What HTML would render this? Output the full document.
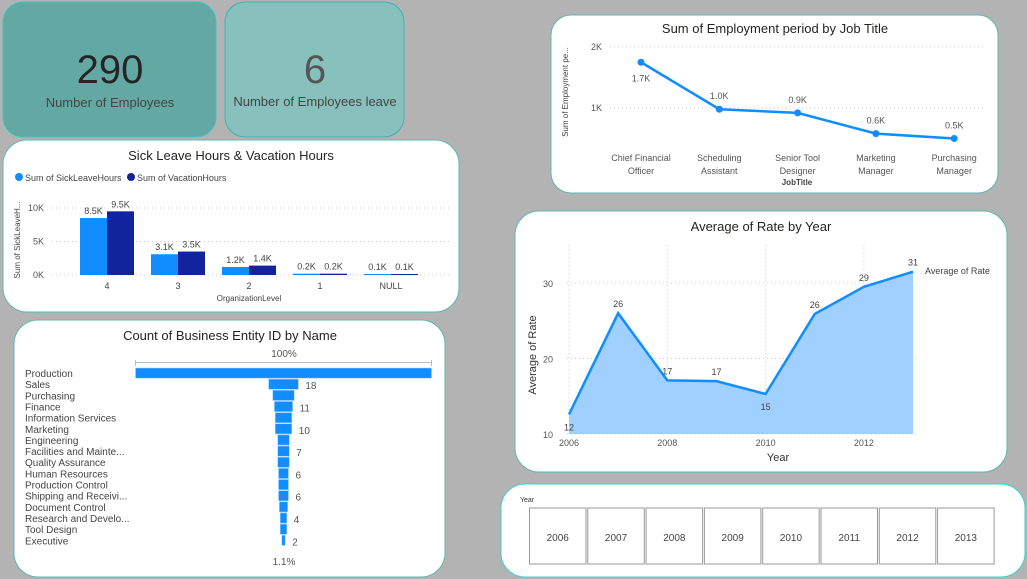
<!DOCTYPE html>
<html><head><meta charset="utf-8"><style>
html,body{margin:0;padding:0;width:1027px;height:579px;overflow:hidden;background:#b3b3b3}
svg{display:block;font-family:"Liberation Sans","DejaVu Sans",sans-serif}
</style></head><body>
<svg id="s" width="1027" height="579" viewBox="0 0 1027 579">
<rect width="1027" height="579" fill="#b3b3b3"/>
<g>
<rect x="3" y="2" width="213" height="135" rx="20" fill="#64a8a4" stroke="#3cc4c0" stroke-width="1"/>
<text x="110" y="83" text-anchor="middle" font-size="40" fill="#252525">290</text>
<text x="110" y="107" text-anchor="middle" font-size="13" fill="#444">Number of Employees</text>
</g>
<g>
<rect x="225" y="2" width="179" height="135" rx="20" fill="#87c0bd" stroke="#3cb4b0" stroke-width="1"/>
<text x="315" y="83" text-anchor="middle" font-size="40" fill="#555">6</text>
<text x="315" y="106" text-anchor="middle" font-size="13" fill="#444">Number of Employees leave</text>
</g>
<rect x="3" y="140" width="456" height="172" rx="24" fill="#fff" stroke="#5cb8b0"/>
<rect x="14" y="320" width="431" height="257" rx="24" fill="#fff" stroke="#5cb8b0"/>
<rect x="551" y="15" width="447" height="178" rx="20" fill="#fff" stroke="#5cb8b0"/>
<rect x="515" y="211" width="492" height="261" rx="24" fill="#fff" stroke="#5cb8b0"/>
<rect x="501" y="484" width="524" height="93" rx="24" fill="#fff" stroke="#3cd0d0"/>

<text x="231" y="160" text-anchor="middle" font-size="13" fill="#252423">Sick Leave Hours &amp; Vacation Hours</text>
<g>
<circle cx="19" cy="177" r="4" fill="#118dff"/>
<text x="25" y="181" font-size="9" fill="#444">Sum of SickLeaveHours</text>
<circle cx="131" cy="177" r="4" fill="#12239e"/>
<text x="137" y="181" font-size="9" fill="#444">Sum of VacationHours</text>
</g>
<g id="bars"></g>
<text x="20" y="240" transform="rotate(-90 20 240)" text-anchor="middle" font-size="8" fill="#444">Sum of SickLeaveH...</text>
<text x="249" y="301" text-anchor="middle" font-size="8" fill="#444">OrganizationLevel</text>

<text x="230" y="340" text-anchor="middle" font-size="13" fill="#252423">Count of Business Entity ID by Name</text>
<text x="284" y="357" text-anchor="middle" font-size="10" fill="#555">100%</text>
<path d="M135.5 360 V366 M135.5 362.5 H431.5 M431.5 360 V366" stroke="#bbb" fill="none"/>
<g id="funnel"></g>
<text x="284" y="565" text-anchor="middle" font-size="10" fill="#555">1.1%</text>

<text x="775" y="33" text-anchor="middle" font-size="13" fill="#252423">Sum of Employment period by Job Title</text>
<g id="emp"></g>
<text x="568" y="92" transform="rotate(-90 568 92)" text-anchor="middle" font-size="8" fill="#444">Sum of Employment pe...</text>
<text x="797" y="185" text-anchor="middle" font-size="8" fill="#444" font-weight="bold">JobTitle</text>

<text x="761" y="231" text-anchor="middle" font-size="13" fill="#252423">Average of Rate by Year</text>
<g id="rate"></g>
<text x="536" y="355" transform="rotate(-90 536 355)" text-anchor="middle" font-size="11" fill="#333">Average of Rate</text>
<text x="778" y="461" text-anchor="middle" font-size="11" fill="#333">Year</text>
<text x="925" y="274" font-size="9" fill="#444">Average of Rate</text>

<text x="520" y="502" font-size="7" fill="#333">Year</text>
<g id="slicer"></g>
</svg>
<script>
const NS="http://www.w3.org/2000/svg";
function mk(p,t,a,txt){const e=document.createElementNS(NS,t);for(const k in a)e.setAttribute(k,a[k]);if(txt!=null)e.textContent=txt;p.appendChild(e);return e;}

const orgLevels=["4","3","2","1","NULL"];
const sickVals=[8.5,3.1,1.2,0.2,0.1];
const vacVals=[9.5,3.5,1.4,0.2,0.1];
const sickTicks=[0,5,10];
const bars=document.getElementById('bars');
const bY=v=>275-v*6.7, bX=i=>107+i*71;
sickTicks.forEach(t=>{
 const l=mk(bars,'line',{x1:52,x2:450,y1:bY(t),y2:bY(t),stroke:'#ccc','stroke-dasharray':'1 3'});
 
 
 const tx=mk(bars,'text',{x:44,y:bY(t)+3,'text-anchor':'end','font-size':9,fill:'#555'},t+'K');
 
 
});
orgLevels.forEach((c,i)=>{
 [[sickVals[i],'#118dff',-27],[vacVals[i],'#12239e',0]].forEach(([v,col,off])=>{
  const h=Math.max(v*6.7,1);
  const r=mk(bars,'rect',{x:bX(i)+off,y:275-h,width:27,height:h,fill:col});
  
  
  const t=mk(bars,'text',{x:bX(i)+off+13.5,y:275-h-4,'text-anchor':'middle','font-size':9,fill:'#444'},v.toFixed(1)+'K');
  
  
 });
 const t=mk(bars,'text',{x:bX(i),y:289,'text-anchor':'middle','font-size':9,fill:'#444'},c);
 
 
});

const deptNames=["Production","Sales","Purchasing","Finance","Information Services","Marketing","Engineering","Facilities and Mainte...","Quality Assurance","Human Resources","Production Control","Shipping and Receivi...","Document Control","Research and Develo...","Tool Design","Executive"];
const deptCounts=[179,18,13,11,10,10,7,7,7,6,6,6,5,4,4,2];
const deptShownLabels=[null,"18",null,"11",null,"10",null,"7",null,"6",null,"6",null,"4",null,"2"];
const fun=document.getElementById('funnel');
const fMax=Math.max(...deptCounts);
deptNames.forEach((n,i)=>{
 const y=368+i*11.15, w=deptCounts[i]/fMax*296;
 const r=mk(fun,'rect',{x:283.5-w/2,y:y,width:w,height:10.2,fill:'#118dff',stroke:'#9cd0ff','stroke-width':0.6});
 
 
 const t=mk(fun,'text',{x:25,y:y+9,'font-size':10,fill:'#444'},n);
 
 
 if(deptShownLabels[i]){
  const v=mk(fun,'text',{x:283.5+w/2+7,y:y+10,'font-size':10,fill:'#555'},deptShownLabels[i]);
  
  
 }
});

const jobTitles=[["Chief Financial","Officer"],["Scheduling","Assistant"],["Senior Tool","Designer"],["Marketing","Manager"],["Purchasing","Manager"]];
const empVals=[1.75,0.98,0.92,0.58,0.5];
const empLabels=["1.7K","1.0K","0.9K","0.6K","0.5K"];
const empTicks=[1,2];
const emp=document.getElementById('emp');
const eY=v=>169-v*61, eX=i=>641+i*78.3;
empTicks.forEach(t=>{
 const l=mk(emp,'line',{x1:610,x2:985,y1:eY(t),y2:eY(t),stroke:'#ccc','stroke-dasharray':'1 3'});
 
 
 const tx=mk(emp,'text',{x:602,y:eY(t)+3,'text-anchor':'end','font-size':9,fill:'#555'},t+'K');
 
 
});
const ep=mk(emp,'polyline',{points:empVals.map((v,i)=>eX(i)+','+eY(v)).join(' '),fill:'none',stroke:'#118dff','stroke-width':2.5});


empVals.forEach((v,i)=>{
 const c=mk(emp,'circle',{cx:eX(i),cy:eY(v),r:3.5,fill:'#118dff'});
 
 
 const ly=i==0?eY(v)+19:eY(v)-10;
 const t=mk(emp,'text',{x:eX(i),y:ly,'text-anchor':'middle','font-size':9,fill:'#555'},empLabels[i]);
 
 
 jobTitles[i].forEach((s,k)=>{
  const tt=mk(emp,'text',{x:eX(i),y:161+k*13,'text-anchor':'middle','font-size':9,fill:'#555'},s);
  
  
 });
});

const years=[2006,2007,2008,2009,2010,2011,2012,2013];
const rateVals=[12.6,26,17.1,17,15.3,25.9,29.5,31.5];
const rateLabels=["12","26","17","17","15","26","29","31"];
const rateTicks=[10,20,30];
const yearTicks=[2006,2008,2010,2012];
const rate=document.getElementById('rate');
const rY=v=>434-(v-10)*7.55, rX=y=>569+(y-2006)*49.15;
rateTicks.forEach(t=>{
 const l=mk(rate,'line',{x1:567,x2:918,y1:rY(t),y2:rY(t),stroke:'#ccc','stroke-dasharray':'1 3'});
 
 
 const tx=mk(rate,'text',{x:553,y:rY(t)+4,'text-anchor':'end','font-size':9,fill:'#555'},t);
 
 
});
yearTicks.forEach(y=>{
 const l=mk(rate,'line',{x1:rX(y),x2:rX(y),y1:245,y2:434,stroke:'#ccc','stroke-dasharray':'1 3'});
 
 
 const tx=mk(rate,'text',{x:rX(y),y:446,'text-anchor':'middle','font-size':9,fill:'#555'},y);
 
 
});
const pts=years.map((y,i)=>rX(y)+','+rY(rateVals[i]));
const area=mk(rate,'polygon',{points:rX(years[0])+','+rY(10)+' '+pts.join(' ')+' '+rX(years[years.length-1])+','+rY(10),fill:'#9fd0ff'});


const rl=mk(rate,'polyline',{points:pts.join(' '),fill:'none',stroke:'#118dff','stroke-width':2.5});


years.forEach((y,i)=>{
 const below=(i==0||i==4);
 const t=mk(rate,'text',{x:rX(y),y:below?rY(rateVals[i])+16:rY(rateVals[i])-6,'text-anchor':'middle','font-size':9,fill:'#444'},rateLabels[i]);
 
 
});

const sl=document.getElementById('slicer');
years.forEach((y,i)=>{
 const x=529.5+i*58.3;
 const r=mk(sl,'rect',{x:x,y:508,width:56.5,height:56,fill:'#fff',stroke:'#999','stroke-width':1});
 
 
 const t=mk(sl,'text',{x:x+28.25,y:541,'text-anchor':'middle','font-size':10,fill:'#444'},y);
 
 
});
</script>
</body></html>
